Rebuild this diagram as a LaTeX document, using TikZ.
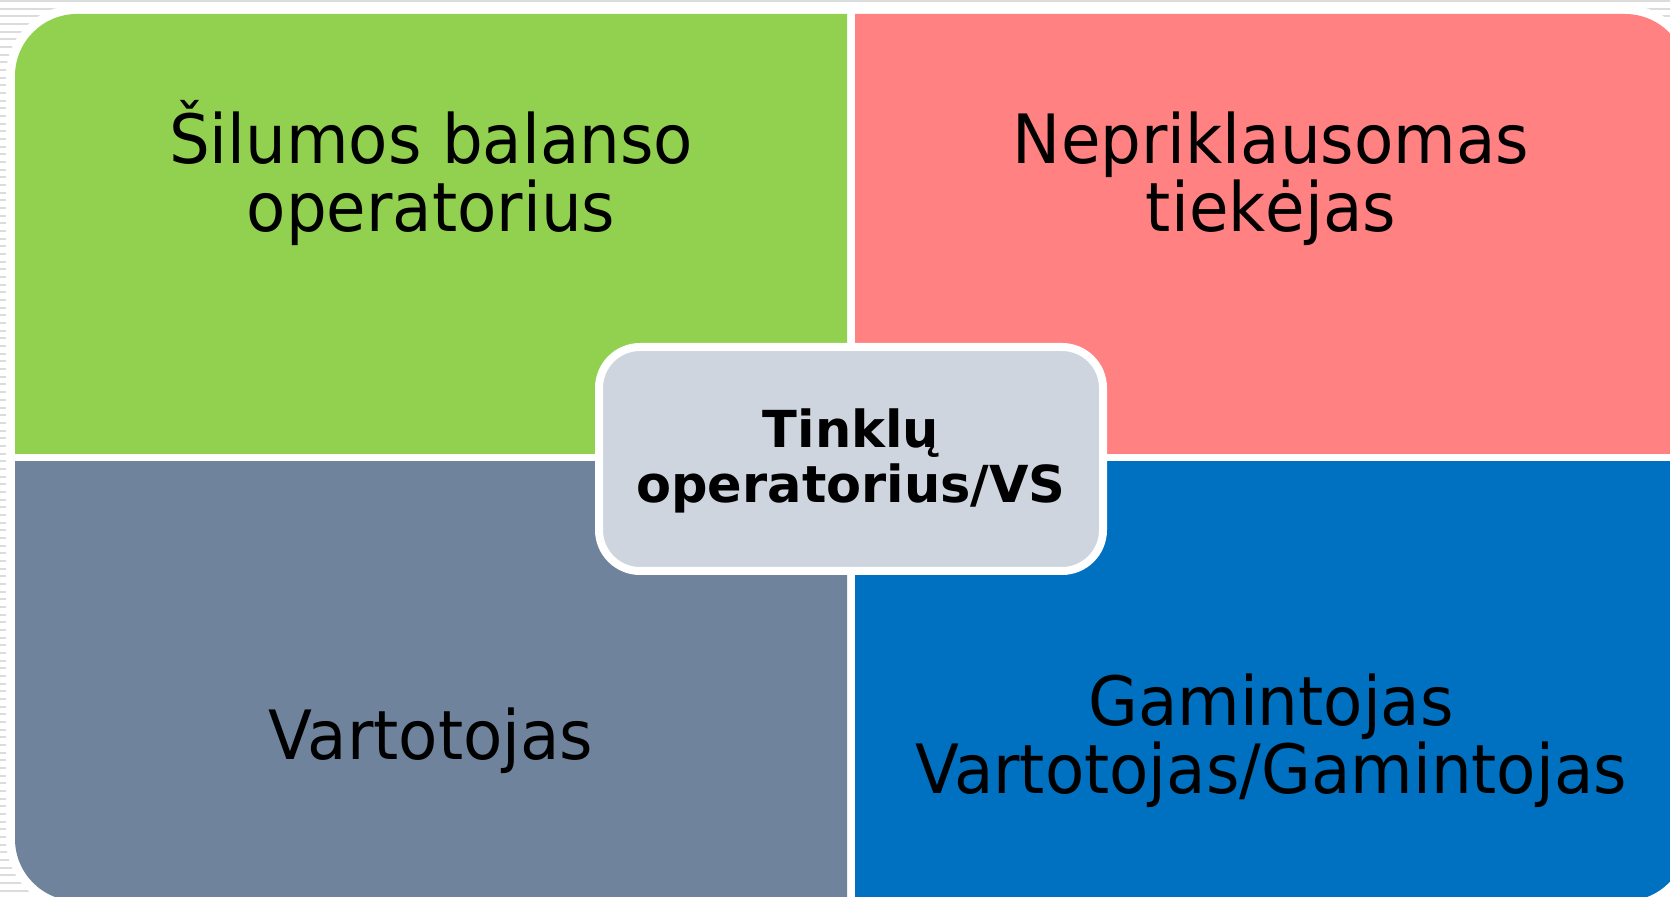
\documentclass[tikz,border=0pt]{standalone}
\usepackage{fontspec}
\setmainfont{DejaVu Sans}
\newfontfamily\quadfont[FakeStretch=0.945]{DejaVu Sans}
\definecolor{cgreen}{HTML}{92D050}
\definecolor{cred}{HTML}{FF8181}
\definecolor{cslate}{HTML}{6F849C}
\definecolor{cblue}{HTML}{0070C0}
\definecolor{ccenter}{HTML}{CED5DE}
\definecolor{cstripe}{HTML}{DCDCDC}
\begin{document}
\begin{tikzpicture}[x=0.5pt,y=-0.5pt,
  lbl/.style={align=center, font=\quadfont\fontsize{34}{34}\selectfont, text=black, inner sep=0pt, anchor=base},
  clbl/.style={align=center, font=\fontsize{25.5}{28}\selectfont\bfseries, text=black, inner sep=0pt, anchor=base},
  cbox/.style={draw=white, line width=4pt, fill=ccenter, rounded corners=20.5pt,
    minimum width=252pt, minimum height=112pt, inner sep=0pt},
  quad/.style={rounded corners=31pt}]
\useasboundingbox (0,0) rectangle (1670,897);
\fill[white] (0,0) rectangle (1670,897);
\foreach \i in {0,...,117} {
  \fill[cstripe] (0,{7.67*\i}) rectangle (1670,{7.67*\i+2});
}
\fill[white, rounded corners=35.5pt] (6,5) rectangle (1696,910);
\begin{scope}
  \clip (0,0) rectangle (847,454);
  \fill[cgreen, quad] (15,14) rectangle (1687,901);
\end{scope}
\begin{scope}
  \clip (855,0) rectangle (1670,454);
  \fill[cred, quad] (15,14) rectangle (1687,901);
\end{scope}
\begin{scope}
  \clip (0,462) rectangle (847,897);
  \fill[cslate, quad] (15,14) rectangle (1687,901);
\end{scope}
\begin{scope}
  \clip (855,462) rectangle (1670,897);
  \fill[cblue, quad] (15,14) rectangle (1687,901);
\end{scope}
\node[lbl] (q1) at (431,232) {Šilumos balanso\\operatorius};
\node[lbl] (q2) at (1271,232) {Nepriklausomas\\tiekėjas};
\node[lbl] (q3) at (431,759) {Vartotojas};
\node[lbl] (q4) at (1271,793) {Gamintojas\\Vartotojas/Gamintojas};
\node[cbox] (c) at (851,459) {};
\node[clbl] (cl) at (851,503) {Tinklų\\operatorius/VS};
\end{tikzpicture}
\end{document}
